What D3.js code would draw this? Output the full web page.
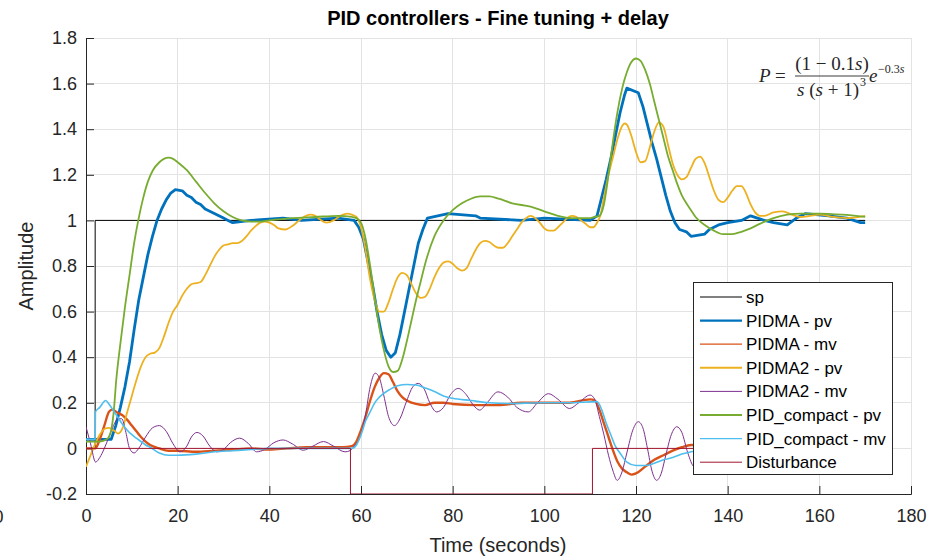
<!DOCTYPE html>
<html>
<head>
<meta charset="utf-8">
<script src="https://cdn.jsdelivr.net/npm/d3@7"></script>
<style>
  html, body { margin: 0; padding: 0; background: #fff; }
  svg { display: block; }
  text { font-family: "Liberation Sans", Arial, Helvetica, sans-serif; fill: #262626; }
</style>
</head>
<body>
<svg id="chart" width="946" height="558"></svg>
<script>
// ---------------- DATA ----------------
const xTicks = [0, 20, 40, 60, 80, 100, 120, 140, 160, 180];
const yTicks = [-0.2, 0, 0.2, 0.4, 0.6, 0.8, 1, 1.2, 1.4, 1.6, 1.8];
const yTickLabels = ["-0.2", "0", "0.2", "0.4", "0.6", "0.8", "1", "1.2", "1.4", "1.6", "1.8"];

const spData = [[0,0],[2,0],[2,1],[170,1]];

const disturbance = [[0,0],[57.7,0],[57.7,-0.2],[110.5,-0.2],[110.5,0],[170,0]];

const pidmaPv = [[0,0.04],[5.5,0.04],[6.5,0.1],[7.5,0.18],[8.5,0.27],[9.5,0.38],[10.5,0.52],[11.5,0.65],
  [12.5,0.75],[13.5,0.85],[14.5,0.93],[15.5,1.0],[16.5,1.05],[17.5,1.09],[18.5,1.12],[19.5,1.135],[21,1.13],
  [22,1.11],[23,1.1],[24,1.08],[25,1.07],[26,1.05],[27,1.04],[28,1.03],[29,1.02],[30,1.01],[31,1.0],[32,0.99],
  [36,1.0],[43,1.01],[47,1.0],[55,1.01],[58.5,1.0],[59.5,0.97],[60.5,0.92],[61.5,0.82],[62.5,0.72],[63.5,0.6],
  [64.5,0.5],[65.5,0.43],[66.5,0.4],[67.5,0.42],[68.5,0.5],[69.5,0.6],[70.5,0.7],[71.5,0.8],[72.5,0.9],
  [73.5,0.96],[74.5,1.01],[79,1.03],[85,1.02],[86,1.01],[95,1.0],[100,1.01],[110,1.0],[111.5,1.02],[112.5,1.1],
  [113.5,1.18],[114.5,1.27],[115.5,1.37],[116.5,1.47],[117.5,1.55],[118,1.58],[120.5,1.56],[121.5,1.5],
  [122.5,1.42],[123.5,1.34],[124.5,1.27],[125.5,1.19],[126.5,1.11],[127.5,1.04],[128.5,0.99],[129.5,0.96],
  [131,0.95],[132,0.93],[135,0.94],[136,0.96],[138,0.98],[140,0.99],[143,1.0],[145,1.02],[148,1.0],[150,0.99],
  [153,0.98],[155,1.01],[157,1.03],[162,1.02],[166,1.01],[169,0.99],[170,0.99]];

const pidmaMv = [[0,0.0],[2,0.0],[3,0.04],[4,0.1],[5,0.16],[5.7,0.17],[7,0.155],[8,0.145],[9,0.125],[10,0.1],
  [11,0.075],[12,0.05],[13,0.03],[14,0.015],[16,0.0],[18,-0.01],[20,-0.01],[24,-0.015],[28,-0.01],[32,-0.005],
  [36,0],[40,-0.005],[44,0],[48,0.005],[52,0.005],[56,0.005],[58,0.01],[59,0.03],[60,0.08],[61,0.14],[62,0.21],
  [63,0.27],[64,0.31],[65,0.33],[66,0.325],[67,0.29],[68,0.25],[69,0.225],[70,0.21],[72,0.195],[74,0.19],
  [76,0.2],[78,0.2],[80,0.195],[85,0.19],[90,0.19],[95,0.2],[100,0.2],[105,0.2],[110,0.215],[111,0.21],
  [112,0.17],[113,0.11],[114,0.05],[115,-0.01],[116,-0.06],[117,-0.09],[118,-0.105],[119,-0.115],[120,-0.11],
  [122,-0.08],[124,-0.05],[126,-0.03],[128,-0.01],[130,0.005],[132,0.015],[136,0.01],[140,0],[150,0],[160,0],[170,0]];

const pidma2Pv = [[0,-0.08],[1,-0.03],[2,0.02],[3,0.06],[4,0.085],[5,0.09],[6,0.08],[7,0.065],[8,0.09],[9,0.16],
  [10,0.23],[11,0.3],[12,0.36],[13,0.4],[14,0.415],[15,0.42],[16,0.44],[17,0.49],[18,0.55],[19,0.6],[20,0.63],
  [21,0.67],[22,0.7],[23,0.72],[24,0.725],[25,0.73],[26,0.76],[27,0.8],[28,0.84],[29,0.87],[30,0.89],[31,0.895],
  [32,0.9],[33,0.9],[34,0.91],[35,0.93],[36,0.955],[37,0.975],[38,0.99],[39,0.995],[40,0.99],[41,0.98],
  [42,0.965],[43.5,0.96],[45,0.975],[46.5,1.0],[48,1.02],[49,1.025],[50,1.02],[51,1.005],[52.5,0.99],[54,1.0],
  [55.5,1.02],[57,1.03],[58,1.025],[59,1.015],[60,0.97],[61,0.87],[62,0.74],[63,0.65],[64,0.6],[65,0.6],
  [66,0.64],[67,0.7],[68,0.75],[69,0.77],[70,0.76],[71,0.72],[72,0.68],[73,0.66],[74,0.665],[75,0.7],[76,0.75],
  [77,0.79],[78,0.815],[79,0.82],[80,0.81],[81,0.79],[82,0.78],[83,0.79],[84,0.83],[85,0.87],[86,0.9],[87,0.91],
  [88,0.905],[89,0.89],[90,0.88],[91,0.88],[92,0.9],[93,0.93],[94,0.96],[95,0.99],[96,1.01],[97,1.02],[98,1.01],
  [99,0.99],[100,0.965],[101,0.955],[102,0.955],[103,0.97],[104,0.99],[105,1.01],[106,1.02],[107,1.015],
  [108,1.0],[109,0.985],[110,0.97],[110.7,0.97],[111.5,0.99],[112.2,1.02],[113,1.1],[114,1.2],[115,1.28],
  [116,1.36],[117,1.415],[117.5,1.425],[118,1.42],[119,1.37],[120,1.3],[121,1.255],[122,1.26],[123,1.32],
  [124,1.39],[125,1.43],[126,1.41],[127,1.33],[128,1.25],[129,1.2],[130,1.18],[131,1.19],[132,1.23],[133,1.27],
  [134,1.28],[135,1.25],[136,1.19],[137,1.13],[138,1.09],[139,1.08],[140,1.1],[141,1.13],[142,1.15],[143,1.15],
  [144,1.12],[145,1.07],[146,1.035],[147,1.02],[148,1.02],[150,1.035],[152,1.04],[154,1.025],[156,1.015],
  [158,1.02],[160,1.025],[163,1.015],[166,1.01],[170,1.02]];

const pidma2Mv = [[0,0.095],[1,0.02],[2.1,-0.06],[3,-0.04],[4,0.0],[5,0.05],[6,0.1],[7,0.13],[7.8,0.13],[8.7,0.07],
  [9.5,0.0],[10.5,-0.02],[11.5,0.0],[13,0.05],[14.5,0.09],[16,0.1],[17.5,0.075],[19,0.02],[20.5,-0.015],[22,0.01],
  [23,0.05],[24.2,0.07],[25.5,0.055],[27,0.01],[28.5,-0.015],[30,-0.005],[31.5,0.025],[33.5,0.045],[35.5,0.02],
  [37.2,-0.015],[39,-0.005],[41,0.025],[43,0.037],[45,0.02],[47.4,-0.008],[49.5,0.01],[51.8,0.03],[54,0.01],
  [56.5,-0.015],[57.6,-0.01],[58.5,0.01],[59.8,0.05],[61,0.15],[62,0.27],[63.1,0.33],[64,0.31],[65,0.23],
  [66,0.14],[67.3,0.1],[68.5,0.13],[70,0.21],[71.3,0.27],[72.5,0.285],[73.8,0.26],[75,0.2],[76.5,0.16],[78,0.18],
  [79.5,0.235],[81.2,0.263],[83,0.235],[84.5,0.19],[85.9,0.168],[87.5,0.2],[89.9,0.248],[92,0.225],[94,0.18],
  [96.5,0.16],[98.5,0.2],[100.9,0.24],[103,0.215],[105.5,0.175],[107.5,0.2],[110,0.234],[111,0.215],[112,0.14],
  [113,0.06],[114,-0.03],[115,-0.1],[115.9,-0.14],[117,-0.1],[118,-0.02],[119.3,0.08],[120.5,0.117],[121.5,0.09],
  [122.5,0.0],[123.5,-0.1],[124.5,-0.14],[125.5,-0.11],[126.5,-0.03],[127.7,0.06],[128.9,0.095],[130,0.07],
  [131.3,-0.02],[132.6,-0.08],[133.8,-0.09],[135,-0.05],[136.5,0.02],[138,0.05],[140,0.02],[142,-0.03],
  [144,-0.03],[146,0.01],[148,0.02],[150,0],[155,0],[170,0]];

const pidCompactPv = [[0,0.03],[3,0.03],[4.5,0.04],[5,0.05],[5.5,0.08],[6,0.15],[6.6,0.3],[7.5,0.46],[8.5,0.62],
  [9.5,0.76],[10.5,0.9],[11.4,1.0],[12.5,1.1],[13.5,1.17],[14.6,1.22],[16,1.255],[17,1.27],[18,1.275],[19,1.27],
  [20,1.255],[22,1.22],[24,1.17],[26,1.12],[28,1.075],[30,1.04],[32,1.015],[34,1.0],[36,0.995],[38,0.995],
  [40,1.0],[45,1.01],[50,1.015],[55,1.02],[58,1.015],[59,1.01],[60,0.99],[61,0.92],[62,0.8],[63,0.66],
  [64,0.53],[65,0.43],[66,0.36],[67,0.335],[68,0.34],[69,0.39],[70,0.47],[71,0.56],[72,0.65],[73,0.73],
  [74,0.81],[76,0.93],[78,1.0],[80,1.045],[82,1.075],[84,1.095],[86,1.105],[88,1.105],[90,1.095],[93,1.075],
  [97,1.06],[100,1.04],[103,1.02],[106,1.01],[110,1.01],[111,1.015],[112,1.02],[113,1.07],[114,1.2],[115,1.35],
  [116,1.48],[117,1.58],[118,1.65],[119,1.695],[120,1.71],[121,1.7],[122,1.66],[123,1.6],[124,1.52],[125,1.44],
  [126,1.36],[127,1.28],[128,1.22],[129,1.16],[130,1.11],[131,1.075],[132,1.045],[133,1.015],[135,0.98],
  [137,0.955],[139,0.94],[141,0.94],[143,0.95],[145,0.965],[147,0.985],[150,1.01],[153,1.025],[156,1.03],
  [160,1.03],[165,1.025],[170,1.015]];

const pidCompactMv = [[0,0.04],[2,0.04],[2.05,0.16],[3,0.18],[4.3,0.21],[5,0.195],[6,0.165],[7,0.135],[8,0.105],
  [9,0.08],[10,0.06],[11,0.045],[12,0.03],[13,0.015],[14,0.005],[16,-0.02],[18,-0.03],[20,-0.03],[24,-0.025],
  [28,-0.015],[32,-0.01],[36,-0.005],[40,0],[50,0],[58,0.0],[59,0.015],[60,0.06],[61,0.12],[62,0.16],[63,0.2],
  [64,0.225],[66,0.255],[68,0.275],[70,0.28],[72,0.278],[74,0.265],[76,0.25],[78,0.23],[80,0.22],[84,0.21],
  [88,0.2],[92,0.197],[100,0.2],[105,0.2],[111.5,0.205],[112.5,0.17],[113.5,0.11],[114.5,0.06],[115.5,0.01],
  [116.5,-0.02],[118,-0.06],[120,-0.075],[122,-0.075],[124,-0.065],[126,-0.05],[128,-0.04],[130,-0.025],
  [132,-0.015],[136,0],[150,0],[170,0]];

const legendLabels = ["sp", "PIDMA - pv", "PIDMA - mv", "PIDMA2 - pv", "PIDMA2 - mv",
  "PID_compact - pv", "PID_compact - mv", "Disturbance"];

// ---------------- CHART ----------------
const W = 946, H = 558;
const M = { left: 86, right: 911, top: 38, bottom: 494 };
const svg = d3.select("#chart");

const x = d3.scaleLinear().domain([0, 180]).range([M.left, M.right]);
const y = d3.scaleLinear().domain([-0.2, 1.8]).range([M.bottom, M.top]);

// grid
const grid = svg.append("g");
grid.selectAll(".gx").data(xTicks).enter().append("line")
  .attr("x1", d => x(d)).attr("x2", d => x(d)).attr("y1", M.top).attr("y2", M.bottom)
  .attr("stroke", "#e3e3e3").attr("stroke-width", 1).attr("shape-rendering", "crispEdges");
grid.selectAll(".gy").data(yTicks).enter().append("line")
  .attr("x1", M.left).attr("x2", M.right).attr("y1", d => y(d)).attr("y2", d => y(d))
  .attr("stroke", "#e3e3e3").attr("stroke-width", 1).attr("shape-rendering", "crispEdges");

// axes (ticks inward)
const xAxis = d3.axisBottom(x).tickValues(xTicks).tickSize(-8).tickPadding(14).tickFormat(d3.format("d"));
const yAxis = d3.axisLeft(y).tickValues(yTicks).tickSize(-8).tickPadding(14)
  .tickFormat((d, i) => yTickLabels[i]);

const gx = svg.append("g").attr("transform", `translate(0,${M.bottom})`).call(xAxis);
const gy = svg.append("g").attr("transform", `translate(${M.left},0)`).call(yAxis);
[gx, gy].forEach(g => {
  g.select(".domain").attr("stroke", "#262626").attr("stroke-width", 1);
  g.selectAll(".tick line").attr("stroke", "#262626").attr("stroke-width", 1);
  g.selectAll(".tick text").attr("fill", "#262626")
    .style("font-family", '"Liberation Sans", Arial, sans-serif').style("font-size", "18px");
});
gx.selectAll(".tick text").attr("dy", "0.71em").attr("y", 15);
gy.selectAll(".tick text").attr("x", -9);

// stray clipped "0" label at far left (as in the reference)
svg.append("text").attr("x", -1.5).attr("y", 523).attr("text-anchor", "middle")
  .style("font-size", "18px").text("0");

// clip
svg.append("clipPath").attr("id", "clip").append("rect")
  .attr("x", M.left).attr("y", M.top).attr("width", M.right - M.left).attr("height", M.bottom - M.top);

const plot = svg.append("g").attr("clip-path", "url(#clip)");
const lineLin = d3.line().x(d => x(d[0])).y(d => y(d[1]));
const lineSmooth = d3.line().x(d => x(d[0])).y(d => y(d[1])).curve(d3.curveMonotoneX);

const series = [
  { data: spData, color: "#000000", w: 1, gen: lineLin },
  { data: pidmaPv, color: "#0072BD", w: 2.8, gen: lineLin },
  { data: pidmaMv, color: "#D95319", w: 2.4, gen: lineSmooth },
  { data: pidma2Pv, color: "#EDB120", w: 1.8, gen: lineSmooth },
  { data: pidma2Mv, color: "#7E2F8E", w: 1, gen: lineSmooth },
  { data: pidCompactPv, color: "#77AC30", w: 1.8, gen: lineSmooth },
  { data: pidCompactMv, color: "#4DBEEE", w: 1.6, gen: lineSmooth },
  { data: disturbance, color: "#A2142F", w: 1, gen: lineLin }
];
const legendWidths = [1, 2.4, 1.2, 2, 1, 2, 1.4, 1];

series.forEach(s => {
  plot.append("path").datum(s.data)
    .attr("fill", "none").attr("stroke", s.color).attr("stroke-width", s.w)
    .attr("stroke-linejoin", "round").attr("d", s.gen);
});

// title & labels
svg.append("text").attr("x", 498).attr("y", 25).attr("text-anchor", "middle")
  .style("font-size", "20px").style("font-weight", "bold").style("fill", "#000")
  .text("PID controllers - Fine tuning + delay");
svg.append("text").attr("x", 498).attr("y", 552).attr("text-anchor", "middle")
  .style("font-size", "20px").text("Time (seconds)");
svg.append("text").attr("transform", "translate(33,266) rotate(-90)").attr("text-anchor", "middle")
  .style("font-size", "20px").text("Amplitude");

// formula
const serif = '"Liberation Serif", "Times New Roman", serif';
const f = svg.append("g").style("font-family", serif).style("font-size", "19px");
f.append("text").attr("x", 759).attr("y", 82).style("font-family", serif).style("font-style", "italic").text("P");
f.append("text").attr("x", 775).attr("y", 82).style("font-family", serif).text("=");
f.append("line").attr("x1", 795).attr("x2", 869).attr("y1", 76).attr("y2", 76).attr("stroke", "#262626").attr("stroke-width", 0.9);
const num = f.append("text").attr("x", 832).attr("y", 70).attr("text-anchor", "middle").style("font-family", serif);
num.append("tspan").text("(1 \u2212 0.1");
num.append("tspan").style("font-style", "italic").text("s");
num.append("tspan").text(")");
const den = f.append("text").attr("x", 828).attr("y", 96).attr("text-anchor", "middle").style("font-family", serif);
den.append("tspan").style("font-style", "italic").text("s");
den.append("tspan").text(" (");
den.append("tspan").style("font-style", "italic").text("s");
den.append("tspan").text(" + 1)");
f.append("text").attr("x", 860).attr("y", 86).style("font-size", "12px").style("font-family", serif).text("3");
f.append("text").attr("x", 869).attr("y", 82).style("font-family", serif).style("font-style", "italic").text("e");
const ex = f.append("text").attr("x", 878).attr("y", 73).style("font-size", "12px").style("font-family", serif);
ex.append("tspan").text("\u22120.3");
ex.append("tspan").style("font-style", "italic").text("s");

// legend
const lg = svg.append("g");
lg.append("rect").attr("x", 693.5).attr("y", 282.5).attr("width", 199).attr("height", 192)
  .attr("fill", "#fff").attr("stroke", "#262626").attr("stroke-width", 1);
const rowY0 = 297, rowDy = 23.6;
series.forEach((s, i) => {
  const yy = rowY0 + i * rowDy;
  lg.append("line").attr("x1", 700).attr("x2", 742).attr("y1", yy).attr("y2", yy)
    .attr("stroke", s.color).attr("stroke-width", legendWidths[i]);
  lg.append("text").attr("x", 746).attr("y", yy).attr("dy", "0.35em")
    .style("font-size", "17px").style("fill", "#000").text(legendLabels[i]);
});
</script>
</body>
</html>
